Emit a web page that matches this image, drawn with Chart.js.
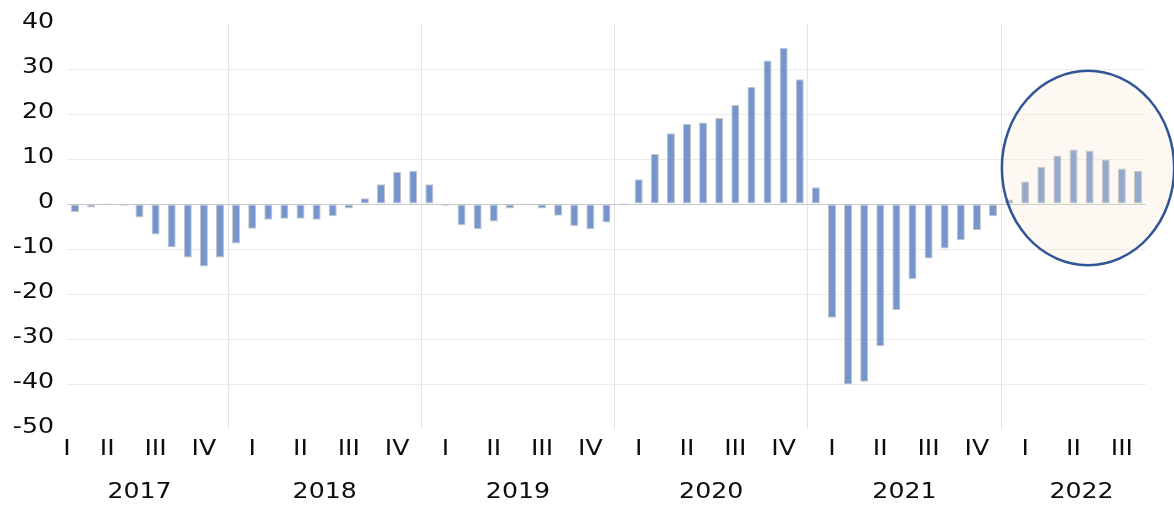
<!DOCTYPE html>
<html>
<head>
<meta charset="utf-8">
<script src="https://cdn.jsdelivr.net/npm/chart.js@4/dist/chart.umd.min.js"></script>
<style>
  body { margin: 0; background: #fff; }
</style>
</head>
<body>
<canvas id="chart" width="1174" height="506"></canvas>
<script>
// monthly change, Feb 2017 .. Oct 2022 (first and last month shown empty)
const startYear = 2017;
const startMonth = 2;
const values = [
    null, -1.8, -0.8, 0.2, -0.4, -3.0, -6.8, -9.6, -11.9, -13.9, -11.9,
    -8.8, -5.5, -3.5, -3.3, -3.3, -3.5, -2.7, -1.0, 1.3, 4.4, 7.1, 7.4,
    4.4, -0.4, -4.7, -5.6, -3.9, -1.0, 0.2, -1.0, -2.6, -4.9, -5.6, -4.1,
    0.3, 5.5, 11.1, 15.7, 17.8, 18.1, 19.1, 22.0, 26.0, 31.9, 34.7, 27.7,
    3.7, -25.3, -40.1, -39.5, -31.6, -23.6, -16.7, -12.1, -9.9, -8.0, -5.8, -2.7,
    1.0, 5.0, 8.3, 10.8, 12.1, 11.9, 9.9, 7.9, 7.4, null,
];
const quarterLabels = ["I", "II", "III", "IV"];
const yTicks = [40, 30, 20, 10, 0, -10, -20, -30, -40, -50];

const months = [];
for (let i = 0; i < values.length; i++) {
    const m = startMonth - 1 + i;
    const y = startYear + Math.floor(m / 12);
    months.push(y + "-" + String((m % 12) + 1).padStart(2, "0"));
}

// highlight ellipse round the 2022 months
const circle = { month: "2022-06", shift: -0.1, value: 8, halfWidth: 5.35, halfHeight: 21.6 };

const FONT = "21px 'DejaVu Sans'";
const STRETCH = 1.2;

function stretchedText(ctx, text, x, y, align) {
    ctx.save();
    ctx.translate(x, y);
    ctx.scale(STRETCH, 1);
    ctx.textAlign = align;
    ctx.fillText(text, 0, 0);
    ctx.restore();
}

const overlay = {
    id: "overlay",
    afterDatasetsDraw(chart) {
        const { ctx } = chart;
        const xs = chart.scales.x, ys = chart.scales.y;
        const i = months.indexOf(circle.month) + circle.shift;
        const cx = xs.getPixelForValue(i);
        const rx = xs.getPixelForValue(i + circle.halfWidth) - cx;
        const cy = ys.getPixelForValue(circle.value);
        const ry = cy - ys.getPixelForValue(circle.value + circle.halfHeight);
        ctx.save();
        ctx.beginPath();
        ctx.ellipse(cx, cy, rx, ry, 0, 0, Math.PI * 2);
        ctx.fillStyle = "rgba(246, 228, 198, 0.25)";
        ctx.fill();
        ctx.lineWidth = 2.5;
        ctx.strokeStyle = "#2f5597";
        ctx.stroke();
        ctx.restore();
    },
    afterDraw(chart) {
        const { ctx, chartArea } = chart;
        const xs = chart.scales.x, ys = chart.scales.y;
        ctx.save();
        ctx.font = FONT;
        ctx.fillStyle = "#0d0d0d";
        ctx.textBaseline = "middle";
        yTicks.forEach((v) => {
            stretchedText(ctx, String(v), 54, ys.getPixelForValue(v) - 1, "right");
        });
        // quarter labels on the middle month of each quarter
        months.forEach((m, i) => {
            const mo = +m.slice(5);
            if (mo % 3 !== 2) return;
            let x = xs.getPixelForValue(i);
            x = Math.max(chartArea.left, Math.min(chartArea.right, x));
            stretchedText(ctx, quarterLabels[(mo - 2) / 3], x, 450, "center");
        });
        // year labels centred on the months of that year
        const years = [...new Set(months.map((m) => m.slice(0, 4)))];
        years.forEach((yr) => {
            const first = months.findIndex((m) => m.startsWith(yr));
            let last = first;
            while (last + 1 < months.length && months[last + 1].startsWith(yr)) last++;
            const x = (xs.getPixelForValue(first - 0.5) + xs.getPixelForValue(last + 0.5)) / 2;
            stretchedText(ctx, yr, x, 493, "center");
        });
        ctx.restore();
    },
};

new Chart(document.getElementById("chart"), {
    type: "bar",
    data: {
        labels: months,
        datasets: [
            {
                data: values,
                backgroundColor: "rgb(116, 150, 204)",
                borderColor: "rgb(196, 196, 196)",
                borderWidth: 1,
                borderSkipped: false,
                categoryPercentage: 1,
                barPercentage: 0.5,
            },
        ],
    },
    options: {
        responsive: false,
        animation: false,
        devicePixelRatio: 1,
        layout: { padding: { left: 67, right: 28, top: 24, bottom: 77 } },
        plugins: { legend: { display: false }, tooltip: { enabled: false } },
        scales: {
            x: {
                min: 1,
                max: values.length - 2,
                offset: true,
                ticks: { display: false },
                border: { display: false },
                grid: {
                    offset: true,
                    drawTicks: false,
                    color: (c) => (c.tick && months[c.tick.value].endsWith("-01") ? "#e4e4e4" : "rgba(0,0,0,0)"),
                },
            },
            y: {
                min: -50,
                max: 40,
                ticks: { display: false, stepSize: 10 },
                border: { display: false },
                grid: {
                    drawTicks: false,
                    color: (c) => {
                        const v = c.tick ? c.tick.value : null;
                        if (v === 0) return "#c8c8c8";
                        if (v === 40 || v === -50) return "rgba(0,0,0,0)";
                        return "#ebebeb";
                    },
                },
            },
        },
    },
    plugins: [overlay],
});
</script>
</body>
</html>
